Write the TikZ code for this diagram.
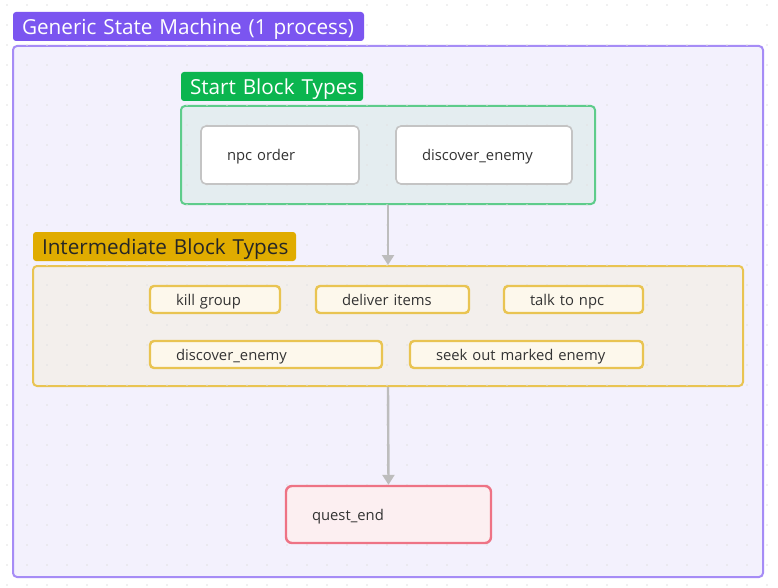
\documentclass[tikz,border=0pt]{standalone}
\usepackage{fontspec}
\setmainfont{Open Sans}
\usetikzlibrary{arrows.meta}
\definecolor{titleP}{HTML}{7B55F0}
\definecolor{outerB}{HTML}{A68CF6}
\definecolor{outerF}{HTML}{F3F1FD}
\definecolor{startL}{HTML}{0BB54F}
\definecolor{startB}{HTML}{5ECC8B}
\definecolor{startF}{HTML}{E4EDF0}
\definecolor{plainB}{HTML}{C4C4C4}
\definecolor{interL}{HTML}{E0AC00}
\definecolor{interB}{HTML}{E9C452}
\definecolor{interF}{HTML}{F3EFEC}
\definecolor{interN}{HTML}{FDF8EC}
\definecolor{endB}{HTML}{EE7385}
\definecolor{endF}{HTML}{FCEFF1}
\definecolor{arrC}{HTML}{BDBDBD}
\definecolor{dotC}{HTML}{E2E2E2}
\definecolor{txt}{HTML}{333333}
\begin{document}
\begin{tikzpicture}[x=1pt,y=-1pt,
  container/.style={draw, rounded corners=4pt, line width=2pt, inner sep=0pt},
  lbl/.style={rounded corners=3pt, inner sep=0pt, minimum height=29pt, minimum width=#1,
    text width=#1-18pt, align=left, text height=20.5pt, text depth=5pt,
    font=\fontsize{20.7}{22}\selectfont},
  plainbox/.style={draw=plainB, fill=white, line width=1.6pt, rounded corners=5pt, inner sep=0pt,
    minimum width=#1, text width=#1-52pt, align=left, minimum height=58pt, text=txt,
    text height=14.5pt, text depth=3.5pt, font=\fontsize{14.8}{16}\selectfont},
  ibox/.style={draw=interB, fill=interN, line width=2.4pt, rounded corners=4pt, inner sep=0pt,
    minimum width=#1, text width=#1-52pt, align=left, minimum height=27pt, text=txt,
    text height=14.5pt, text depth=3.5pt, font=\fontsize{14.8}{16}\selectfont},
  arr/.style={draw=arrC, line width=2.4pt, -{Triangle[width=12pt,length=10pt]}}
]
\useasboundingbox (0,0) rectangle (778,588);
\fill[white] (0,0) rectangle (778,588);
% outer container
\node[container, draw=outerB, fill=outerF, minimum width=750pt, minimum height=531pt] (outer) at (388,311.5) {};
% containers
\node[container, draw=startB, fill=startF, minimum width=414pt, minimum height=98pt] (startbox) at (388,155) {};
\node[container, draw=interB, fill=interF, minimum width=710pt, minimum height=120pt] (interbox) at (388,326) {};
% dot grid
\foreach \i in {0,...,38} {\foreach \j in {0,...,29} {\fill[dotC] (7+20*\i,5+20*\j) circle (0.8pt);}}
% labels
\node[lbl=351pt, fill=titleP, text=white] (title) at (188.5,26.5) {\mbox{Generic State Machine (1 process)}};
\node[lbl=182pt, fill=startL, text=white] (startlbl) at (272,86.5) {\mbox{Start Block Types}};
\node[lbl=263pt, fill=interL, text=black!85] (interlbl) at (164.5,246.5) {\mbox{Intermediate Block Types}};
% start nodes
\node[plainbox=158pt] (npc) at (280,155) {\mbox{npc order}};
\node[plainbox=176pt] (disc) at (484,155) {\mbox{discover\_enemy}};
% intermediate nodes
\node[ibox=130pt] (kill) at (215,299.5) {\mbox{kill group}};
\node[ibox=153pt] (deliver) at (392.5,299.5) {\mbox{deliver items}};
\node[ibox=139pt] (talk) at (573.5,299.5) {\mbox{talk to npc}};
\node[ibox=232pt] (disc2) at (266,354.5) {\mbox{discover\_enemy}};
\node[ibox=233pt] (seek) at (526.5,354.5) {\mbox{seek out marked enemy}};
% end node
\node[draw=endB, fill=endF, line width=2.4pt, rounded corners=6pt, inner sep=0pt, minimum width=205pt,
  text width=153pt, align=left, minimum height=57pt, text=txt, text height=14.5pt, text depth=3.5pt,
  font=\fontsize{14.8}{16}\selectfont]
  (quest) at (388.5,514.5) {\mbox{quest\_end}};
% connectors
\draw[arr] (startbox.south) -- (interbox.north);
\draw[arr] (interbox.south) -- (quest.north);
\end{tikzpicture}
\end{document}
